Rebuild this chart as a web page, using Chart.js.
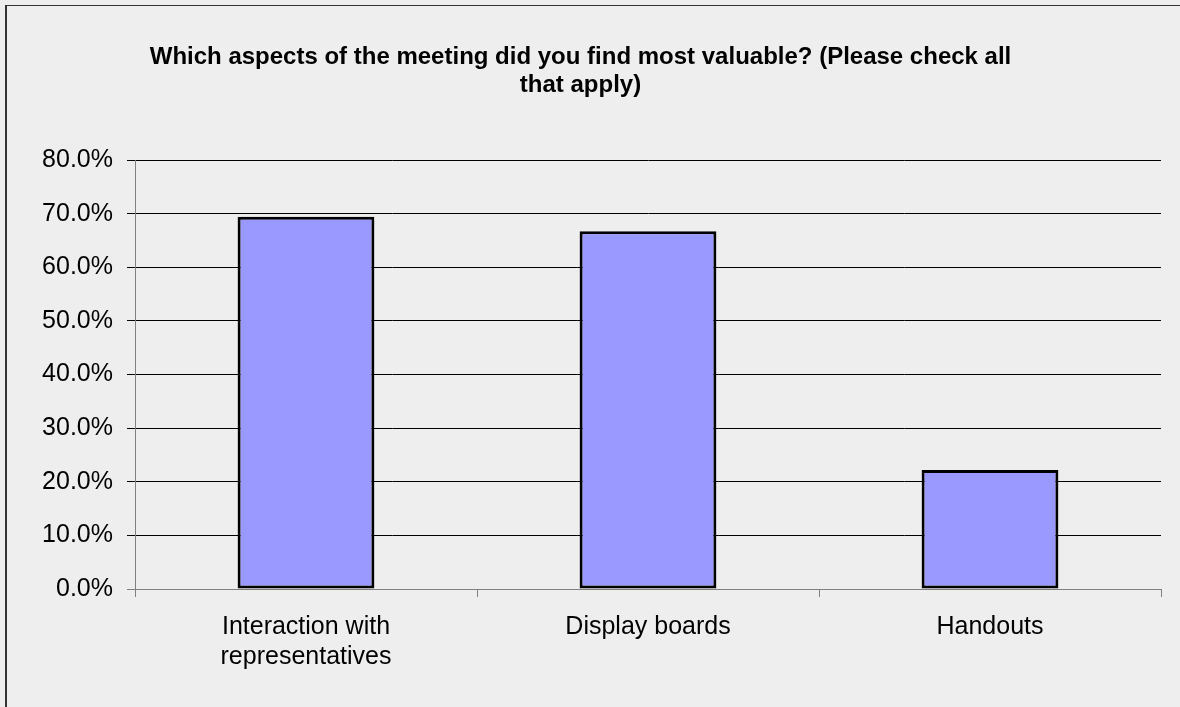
<!DOCTYPE html>
<html>
<head>
<meta charset="utf-8">
<script src="https://cdn.jsdelivr.net/npm/chart.js@4"></script>
<style>
  html, body { margin: 0; padding: 0; background: #eeeeee; overflow: hidden; }
  #frame {
    position: absolute; left: 5px; top: 5px; width: 1200px; height: 720px;
    border-left: 2px solid #333; border-top: 1px solid #333;
  }
  #wrap { position: absolute; left: 0; top: 0; width: 1180px; height: 707px; }
</style>
</head>
<body>
<div id="frame"></div>
<div id="wrap"><canvas id="graficoAspectos"></canvas></div>
<script>
// Respostas da pesquisa (% dos participantes)
const categorias = [['Interaction with', 'representatives'], 'Display boards', 'Handouts'];
const percentuais = [69.4, 66.7, 22.2];
const titulo = ['Which aspects of the meeting did you find most valuable? (Please check all', 'that apply)'];
const ticksY = [0, 10, 20, 30, 40, 50, 60, 70, 80];

const fonte = "'Liberation Sans', Arial, sans-serif";

const ctx = document.getElementById('graficoAspectos').getContext('2d');
new Chart(ctx, {
    type: 'bar',
    data: {
        labels: categorias,
        datasets: [{
            data: percentuais,
            backgroundColor: '#9999ff',
            borderColor: '#000000',
            borderWidth: 3,
            borderSkipped: false,
            categoryPercentage: 1,
            barPercentage: 0.4
        }]
    },
    options: {
        responsive: true,
        maintainAspectRatio: false,
        animation: false,
        layout: { padding: { left: 0, right: 19, top: 0, bottom: 0 } },
        plugins: {
            legend: { display: false },
            tooltip: { enabled: false },
            title: {
                display: true,
                text: titulo,
                color: '#000',
                font: { family: fonte, size: 24, weight: 'bold', lineHeight: 28 / 24 },
                padding: { top: 43, bottom: 61 }
            }
        },
        scales: {
            x: {
                grid: {
                    offset: true,
                    drawOnChartArea: false,
                    drawTicks: true,
                    tickLength: 8,
                    color: '#808080'
                },
                border: { color: '#808080', width: 1 },
                ticks: {
                    color: '#000',
                    padding: 15,
                    maxRotation: 0,
                    font: { family: fonte, size: 25, lineHeight: 1.2 }
                },
                afterFit: (escala) => { escala.height = 118; }
            },
            y: {
                min: 0,
                max: 80,
                afterBuildTicks: (escala) => {
                    escala.ticks = ticksY.map(v => ({ value: v }));
                },
                grid: {
                    tickLength: 8,
                    color: (c) => (c.tick && c.tick.value === 0 ? '#808080' : '#000000')
                },
                border: { color: '#808080', width: 1 },
                ticks: {
                    color: '#000',
                    padding: 14,
                    font: { family: fonte, size: 25 },
                    callback: (v) => v.toFixed(1) + '%'
                },
                afterFit: (escala) => { escala.width = 135; }
            }
        }
    }
});
</script>
</body>
</html>
